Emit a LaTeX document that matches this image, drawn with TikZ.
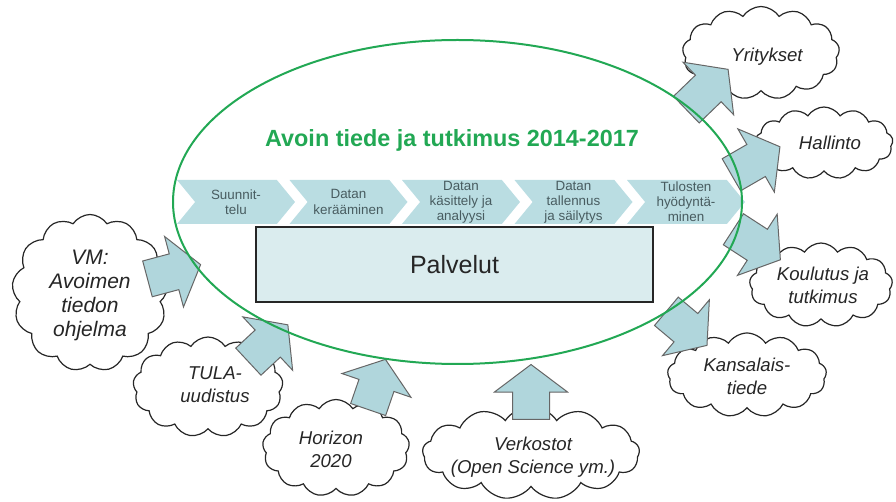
\documentclass[tikz,border=0pt]{standalone}
\usepackage{fontspec}
\setmainfont{Liberation Sans}
\usetikzlibrary{shapes.symbols,shapes.arrows}
\definecolor{vihrea}{RGB}{34,168,84}
\definecolor{vaiheväri}{RGB}{186,221,226}
\definecolor{nuoliväri}{RGB}{176,214,220}
\definecolor{laatikko}{RGB}{218,236,238}
\definecolor{vaiheteksti}{RGB}{72,92,96}

\begin{document}
\begin{tikzpicture}[x=0.5pt,y=-0.5pt,
    vaihe/.style={signal, signal from=west, signal to=east, signal pointer angle=101,
      fill=vaiheväri, minimum width=59pt, minimum height=22pt, inner sep=0pt,
      align=center, font=\fontsize{6.7}{7.6}\selectfont, text=vaiheteksti},
    pilvi/.style={cloud, cloud puffs=13, cloud puff arc=115, cloud ignores aspect,
      draw=black!85, line width=0.6pt, fill=white, inner sep=0pt},
    pilviteksti/.style={align=center, inner sep=0pt, text=black!85,
      font=\fontsize{9.3}{11.5}\selectfont\itshape},
    nuoli/.style={single arrow, single arrow head extend=9pt, single arrow tip angle=106,
      inner xsep=0pt, inner ysep=9pt, fill=nuoliväri, draw=gray!80!black,
      line width=0.5pt, anchor=tail}]
  \useasboundingbox (0,0) rectangle (896,502);

  \node[pilvi, minimum width=78pt, minimum height=78.5pt] (vm) at (90,293) {};
  \node[pilviteksti, font=\fontsize{10.5}{12}\selectfont\itshape] (vmteksti) at (90,295)
    {VM:\\Avoimen\\tiedon\\ohjelma};
  \node[pilvi, minimum width=75pt, minimum height=50pt] (tula) at (208,387) {};
  \node[pilviteksti] (tulateksti) at (215,385) {TULA-\\uudistus};
  \node[pilvi, minimum width=73.5pt, minimum height=48.5pt] (horizon) at (336,448) {};
  \node[pilviteksti] (horizonteksti) at (331,449) {Horizon\\2020};
  \node[pilvi, minimum width=108.5pt, minimum height=46.5pt] (verkostot) at (531,453) {};
  \node[pilviteksti] (verkostotteksti) at (533,457) {Verkostot\\(Open Science ym.)};
  \node[pilvi, minimum width=78.5pt, minimum height=46.5pt] (yritykset) at (761,53) {};
  \node[pilviteksti] (yrityksetteksti) at (767,57) {Yritykset};
  \node[pilvi, minimum width=69pt, minimum height=36pt] (hallinto) at (824,143) {};
  \node[pilviteksti] (hallintoteksti) at (830,143) {Hallinto};
  \node[pilvi, minimum width=71.5pt, minimum height=42pt] (koulutus) at (821,285) {};
  \node[pilviteksti] (koulutusteksti) at (823,285) {Koulutus ja\\tutkimus};
  \node[pilvi, minimum width=79.5pt, minimum height=42pt] (kansalais) at (747,375) {};
  \node[pilviteksti] (kansalaisteksti) at (747,376) {Kansalais-\\tiede};

  \node[nuoli, minimum height=27.5pt, rotate=15] (nvm) at (147,279) {};
  \node[nuoli, minimum height=27pt, rotate=43] (ntula) at (248,362) {};
  \node[nuoli, minimum height=26.5pt, rotate=71] (nhorizon) at (368,410) {};
  \node[nuoli, minimum height=27.5pt, rotate=90] (nverkostot) at (531,420) {};
  \node[nuoli, minimum height=29pt, rotate=44] (nyritykset) at (686,110) {};
  \node[nuoli, minimum height=28pt, rotate=30] (nhallinto) at (731,175) {};
  \node[nuoli, minimum height=28pt, rotate=-33] (nkoulutus) at (733,229) {};
  \node[nuoli, minimum height=26.5pt, rotate=-40] (nkansalais) at (666,311) {};

  \foreach \i/\teksti in {0/{Suunnit-\\telu},1/{Datan\\kerääminen},
      2/{Datan\\käsittely ja\\analyysi},3/{Datan\\tallennus\\ja säilytys},
      4/{Tulosten\\hyödyntä-\\minen}}
    \node[vaihe] (v\i) at (236+112.5*\i,202) {\teksti};

  \node[draw=black!85, line width=0.9pt, fill=laatikko, minimum width=198.5pt,
    minimum height=37.5pt, font=\fontsize{12.5}{15}\selectfont, text=black!85]
    (palvelut) at (454.5,264.5) {Palvelut};

  \node[text=vihrea, font=\fontsize{11.7}{14}\selectfont\bfseries] (otsikko) at (452,140)
    {Avoin tiede ja tutkimus 2014-2017};

  \draw[vihrea, line width=1pt] (457.5,202) ellipse [x radius=284.5, y radius=162];
\end{tikzpicture}
\end{document}
